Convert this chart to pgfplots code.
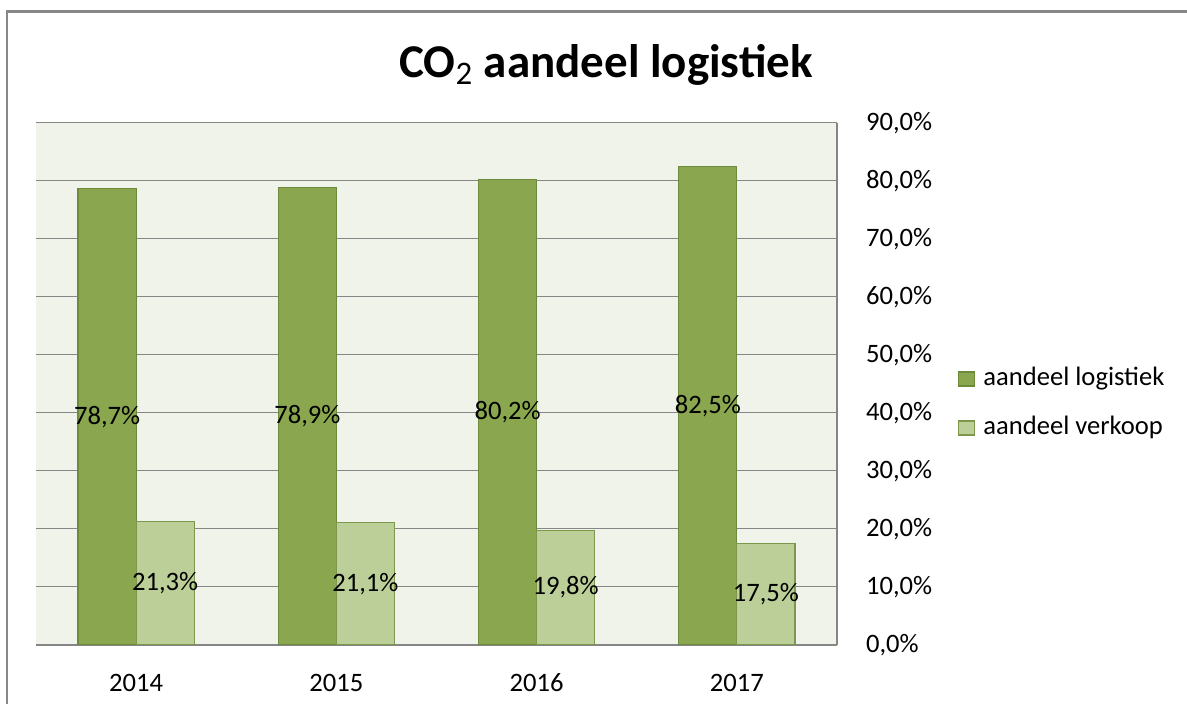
\documentclass[border=0pt]{standalone}
\usepackage{pgfplots}
\pgfplotsset{compat=1.18}
\usepackage{fontspec}
\setmainfont{Carlito}
\definecolor{darkg}{RGB}{138,166,78}
\definecolor{darkgb}{RGB}{108,138,58}
\definecolor{lightg}{RGB}{188,207,152}
\definecolor{lightgb}{RGB}{125,152,75}
\definecolor{bgcol}{RGB}{240,243,234}
\definecolor{gridgray}{RGB}{134,134,134}
\definecolor{framegray}{RGB}{136,136,136}
\pgfplotsset{/pgf/number format/assume math mode=true,
  /pgfplots/ybar legend/.style={/pgfplots/legend image code/.code={\draw[##1,line width=0.6pt,/tikz/.cd,bar width=0pt,yshift=0pt] (0pt,-3.5pt) rectangle (8pt,3.5pt);}}}
\begin{document}
\begin{tikzpicture}[x=0.5pt,y=0.5pt]
\useasboundingbox (0,0) rectangle (1187,704);
\draw[line width=1.3pt, color=framegray] (7,0) -- (7,692.7) -- (1187,692.7);
\node[font=\bfseries\fontsize{23.5}{28}\selectfont] at (606,639) {CO\textsubscript{\mdseries 2} aandeel logistiek};
\begin{axis}[
  at={(18pt,29.5pt)}, anchor=south west,
  scale only axis, width=400.5pt, height=261pt,
  ybar, bar width=0.29,
  xmin=-0.5, xmax=3.5, ymin=0, ymax=90,
  xtick={0,1,2,3}, xticklabels={2014,2015,2016,2017},
  ytick={0,10,...,90},
  yticklabel={\pgfmathprintnumber[fixed,fixed zerofill,precision=1,use comma]{\tick}\%},
  axis x line*=bottom, axis y line*=right,
  axis line style={-, draw=gridgray, line width=0.9pt},
  major tick length=0pt,
  ymajorgrids, grid style={draw=gridgray, line width=0.5pt},
  axis background/.style={fill=bgcol},
  tick label style={font=\fontsize{13.3}{15}\selectfont},
  yticklabel style={anchor=west, xshift=11pt},
  xticklabel style={anchor=center, yshift=-19pt},
  nodes near coords={\pgfmathprintnumber[fixed,fixed zerofill,precision=1,use comma]{\pgfplotspointmeta}\%},
  visualization depends on={rawy \as \rawy},
  every node near coord/.append style={font=\fontsize{13.3}{15}\selectfont, text=black, anchor=center, shift={(axis direction cs:0,-\rawy/2)}},
  legend style={at={(1.1433,0.4626)}, anchor=west, draw=none, fill=none,
    font=\fontsize{13.3}{15}\selectfont, row sep=12.5pt,
    nodes={inner sep=0pt, text height=9pt, text depth=3pt},
    column sep=4pt},
  legend cell align=left,
]
\addplot[fill=darkg, draw=darkgb, line width=0.6pt, bar shift=-0.145]
  coordinates {(0,78.7) (1,78.9) (2,80.2) (3,82.5)};
\addlegendentry{aandeel logistiek}
\addplot[fill=lightg, draw=lightgb, line width=0.6pt, bar shift=0.145]
  coordinates {(0,21.3) (1,21.1) (2,19.8) (3,17.5)};
\addlegendentry{aandeel verkoop}
\end{axis}
\end{tikzpicture}
\end{document}
